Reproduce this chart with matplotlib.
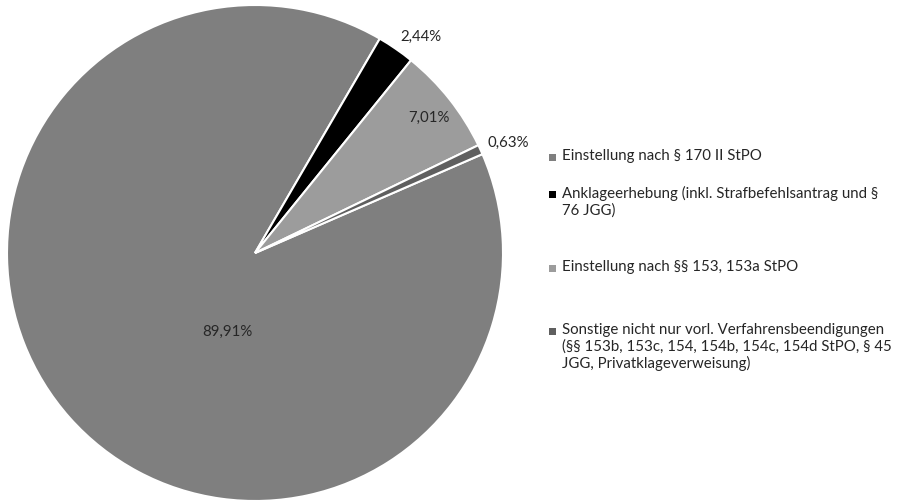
import matplotlib.pyplot as plt
from matplotlib.patches import Rectangle

plt.rcParams["font.family"] = ["Lato", "DejaVu Sans"]

labels = [
    "Einstellung nach § 170 II StPO",
    "Anklageerhebung (inkl. Strafbefehlsantrag und §\n76 JGG)",
    "Einstellung nach §§ 153, 153a StPO",
    "Sonstige nicht nur vorl. Verfahrensbeendigungen\n(§§ 153b, 153c, 154, 154b, 154c, 154d StPO, § 45\nJGG, Privatklageverweisung)",
]
values = [89.91, 2.44, 7.01, 0.63]
pct_text = ["89,91%", "2,44%", "7,01%", "0,63%"]
colors = ["#7f7f7f", "#000000", "#9c9c9c", "#5f5f5f"]

# label positions in pie units (radius 1)
label_xy = [(-0.11, -0.32), (0.67, 0.87), (0.70, 0.545), (1.02, 0.445)]
# legend row y positions in figure pixels (centre of first text line)
legend_y = [157, 194, 268, 331]

W, H = 915, 503
fig = plt.figure(figsize=(W / 100, H / 100), dpi=100)
cx, cy, r = 255, 253, 248
ax = fig.add_axes([(cx - r) / W, (H - cy - r) / H, 2 * r / W, 2 * r / H])
ax.pie(values, colors=colors, startangle=23.5, counterclock=False,
       wedgeprops=dict(edgecolor="white", linewidth=1.5), radius=1)
ax.set_xlim(-1, 1)
ax.set_ylim(-1, 1)
ax.set_aspect("equal")
ax.axis("off")

for (x, y), t in zip(label_xy, pct_text):
    ax.text(x, y, t, ha="center", va="center", fontsize=10.8, color="#262626")

for lab, col, y in zip(labels, colors, legend_y):
    fig.patches.append(Rectangle((549 / W, 1 - (y + 4) / H), 7 / W, 7 / H,
                                 transform=fig.transFigure, facecolor=col,
                                 edgecolor="none"))
    fig.text(562 / W, 1 - (y - 8) / H, lab, ha="left", va="top",
             fontsize=10.8, color="#262626", linespacing=1.2)

fig.savefig("out.png", dpi=100)
